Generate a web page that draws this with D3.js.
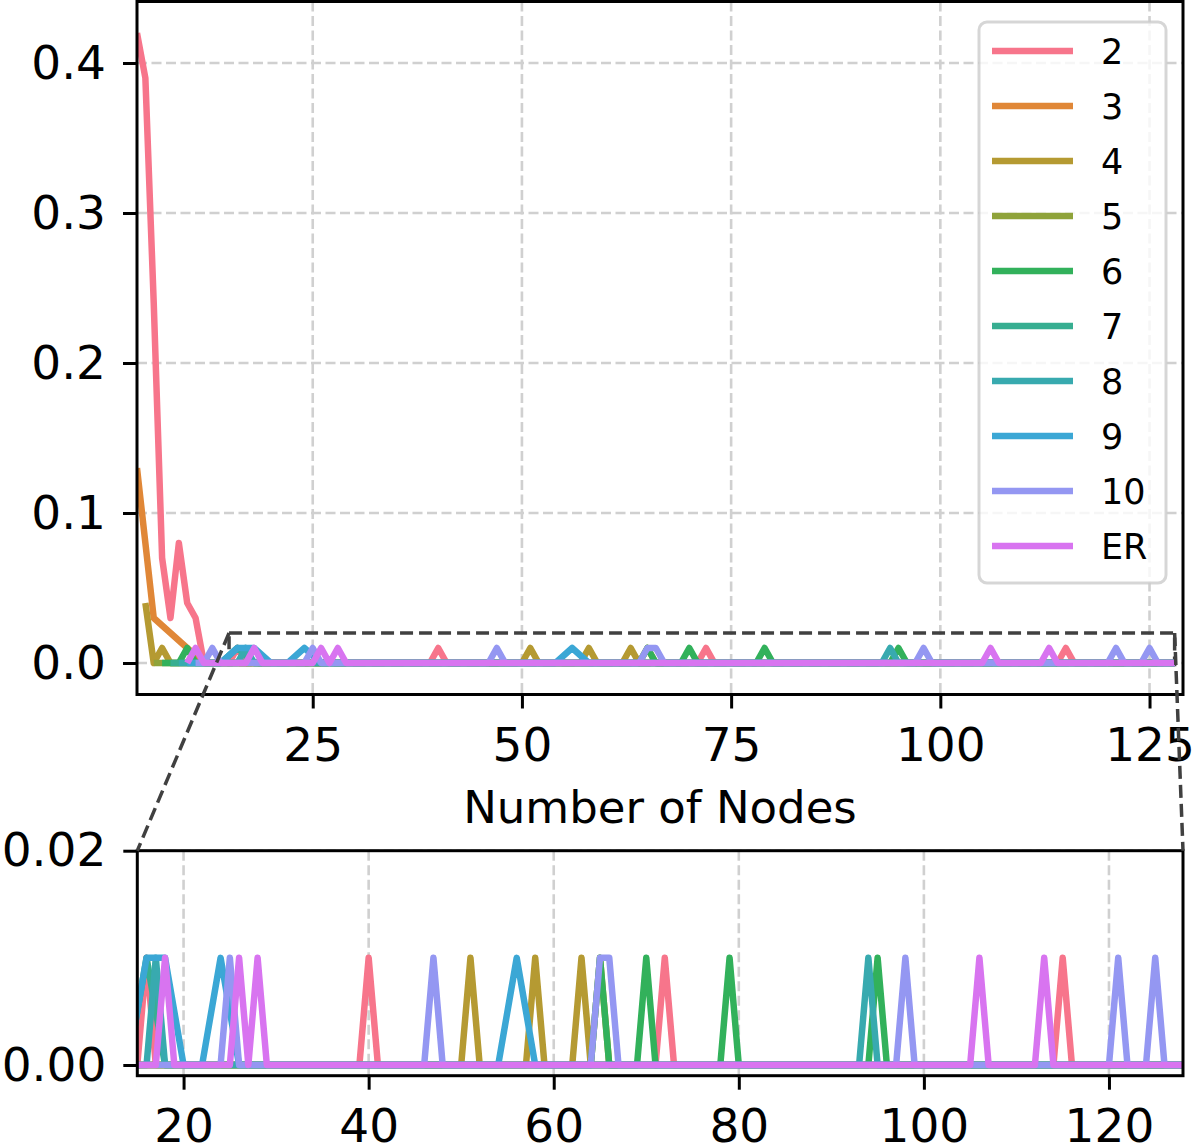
<!DOCTYPE html>
<html>
<head>
<meta charset="utf-8">
<script src="https://cdn.jsdelivr.net/npm/d3@7"></script>
<style>
  body { margin: 0; background: #fff; }
  svg { display: block; font-family: "DejaVu Sans", sans-serif; }
</style>
</head>
<body>
<div id="chart"></div>
<script>
// series labels and colours
var labels = ["2", "3", "4", "5", "6", "7", "8", "9", "10", "ER"];
var colors = ["#f7758b", "#e08737", "#b59a32", "#8fa33a", "#32b15b",
              "#37ae91", "#38aaaf", "#3ba7d5", "#9497f2", "#d874f0"];

// first node count of each series, and node step (odd k -> even n only)
var firstNode = [4, 4, 5, 6, 7, 8, 9, 10, 11, 10];
var nodeStep  = [1, 2, 1, 2, 1, 2, 1, 2, 1, 1];
var lastNode = 128;

// non-zero values, [nodes, value]; all other points are 0
var s2  = [[4, 0.42], [5, 0.39], [6, 0.24], [7, 0.07], [8, 0.03], [9, 0.08], [10, 0.04], [11, 0.03],
           [16, 0.01], [40, 0.01], [72, 0.01], [115, 0.01]];
var s3  = [[4, 0.13], [6, 0.03], [8, 0.02], [10, 0.01]];
var s4  = [[5, 0.04], [7, 0.01], [51, 0.01], [58, 0.01], [63, 0.01], [65, 0.01]];
var s5  = [];
var s6  = [[10, 0.01], [65, 0.01], [70, 0.01], [79, 0.01], [95, 0.01]];
var s7  = [[16, 0.01]];
var s8  = [[17, 0.01], [94, 0.01]];
var s9  = [[16, 0.01], [18, 0.01], [24, 0.01], [56, 0.01]];
var s10 = [[13, 0.01], [25, 0.01], [47, 0.01], [65, 0.01], [66, 0.01], [98, 0.01], [121, 0.01], [125, 0.01]];
var sER = [[11, 0.01], [18, 0.01], [26, 0.01], [28, 0.01], [106, 0.01], [113, 0.01]];
var peaks = [s2, s3, s4, s5, s6, s7, s8, s9, s10, sER];

// tick labels
var mainXTicks = [25, 50, 75, 100, 125];
var mainYTicks = [0, 0.1, 0.2, 0.3, 0.4];
var insetXTicks = [20, 40, 60, 80, 100, 120];
var insetYTicks = [0, 0.02];

var series = labels.map(function (lab, i) {
  var m = new Map(peaks[i]);
  var pts = [];
  for (var n = firstNode[i]; n <= lastNode; n += nodeStep[i]) {
    pts.push({ x: n, y: m.has(n) ? m.get(n) : 0 });
  }
  return { label: lab, color: colors[i], values: pts };
});

var width = 1194, height = 1144;
var fontSize = 47;

var svg = d3.select("#chart").append("svg")
  .attr("width", width)
  .attr("height", height);

function panel(opts) {
  var x = d3.scaleLinear().domain(opts.xd).range([opts.left, opts.right]);
  var y = d3.scaleLinear().domain(opts.yd).range([opts.bottom, opts.top]);
  var g = svg.append("g");

  g.append("clipPath").attr("id", opts.id)
    .append("rect")
    .attr("x", opts.left).attr("y", opts.top)
    .attr("width", opts.right - opts.left).attr("height", opts.bottom - opts.top);

  // grid
  var grid = g.append("g").attr("stroke", "#d0d0d0").attr("stroke-width", 2.6)
    .attr("stroke-dasharray", "10,4.5");
  grid.selectAll(".gx").data(opts.xt).enter().append("line")
    .attr("x1", function (d) { return x(d); }).attr("x2", function (d) { return x(d); })
    .attr("y1", opts.top).attr("y2", opts.bottom);
  grid.selectAll(".gy").data(opts.yt).enter().append("line")
    .attr("y1", function (d) { return y(d); }).attr("y2", function (d) { return y(d); })
    .attr("x1", opts.left).attr("x2", opts.right);

  if (opts.before) opts.before(g, x, y);

  var line = d3.line()
    .x(function (d) { return x(d.x); })
    .y(function (d) { return y(d.y); });

  g.append("g").attr("clip-path", "url(#" + opts.id + ")")
    .selectAll("path").data(series).enter().append("path")
    .attr("d", function (d) { return line(d.values); })
    .attr("fill", "none")
    .attr("stroke", function (d) { return d.color; })
    .attr("stroke-width", 6.5)
    .attr("stroke-linejoin", "round")
    .attr("stroke-linecap", "butt");

  // axes
  var ax = g.append("g").attr("transform", "translate(0," + opts.bottom + ")")
    .call(d3.axisBottom(x).tickValues(opts.xt).tickSize(14).tickSizeOuter(0).tickPadding(19));
  var ay = g.append("g").attr("transform", "translate(" + opts.left + ",0)")
    .call(d3.axisLeft(y).tickValues(opts.yt).tickFormat(d3.format(opts.yf)).tickSize(14).tickSizeOuter(0).tickPadding(17));
  [ax, ay].forEach(function (a) {
    a.select(".domain").remove();
    a.selectAll(".tick line").attr("stroke", "#000").attr("stroke-width", 3);
    a.selectAll(".tick text").attr("fill", "#000")
      .style("font-size", fontSize + "px")
      .style("font-family", "'DejaVu Sans', sans-serif");
  });

  g.append("rect")
    .attr("x", opts.left).attr("y", opts.top)
    .attr("width", opts.right - opts.left).attr("height", opts.bottom - opts.top)
    .attr("fill", "none").attr("stroke", "#000").attr("stroke-width", 3);

  return { x: x, y: y, g: g };
}

var insetXD = [15, 128], insetYD = [-0.001, 0.02];

var main = panel({
  id: "clipMain",
  left: 137, right: 1183, top: 1.5, bottom: 694.5,
  xd: [4, 129], yd: [-0.021, 0.441],
  xt: mainXTicks, yt: mainYTicks, yf: ".1f",
  before: function (g, x, y) {
    // zoom indicator box
    g.append("rect")
      .attr("x", x(insetXD[0])).attr("y", y(insetYD[1]))
      .attr("width", x(insetXD[1]) - x(insetXD[0]))
      .attr("height", y(insetYD[0]) - y(insetYD[1]))
      .attr("fill", "none").attr("stroke", "#404040")
      .attr("stroke-width", 3.5).attr("stroke-dasharray", "13,6");
  }
});

var inset = panel({
  id: "clipInset",
  left: 137.3, right: 1183, top: 850.7, bottom: 1075.7,
  xd: insetXD, yd: insetYD,
  xt: insetXTicks, yt: insetYTicks, yf: ".2f"
});

// connectors from the zoom box to the inset
var conn = [
  [main.x(insetXD[0]), main.y(insetYD[1]), inset.x(insetXD[0]), inset.y(insetYD[1])],
  [main.x(insetXD[1]), main.y(insetYD[1]), inset.x(insetXD[1]), inset.y(insetYD[1])]
];
svg.append("g").selectAll("line").data(conn).enter().append("line")
  .attr("x1", function (d) { return d[0]; }).attr("y1", function (d) { return d[1]; })
  .attr("x2", function (d) { return d[2]; }).attr("y2", function (d) { return d[3]; })
  .attr("stroke", "#404040").attr("stroke-width", 3.5).attr("stroke-dasharray", "13,6");

// x label
svg.append("text")
  .attr("x", (137 + 1183) / 2).attr("y", 823)
  .attr("text-anchor", "middle")
  .style("font-size", "45px")
  .text("Number of Nodes");

// legend
var legend = svg.append("g");
legend.append("rect")
  .attr("x", 979).attr("y", 22).attr("width", 187).attr("height", 561).attr("rx", 8)
  .attr("fill", "#fff").attr("fill-opacity", 0.8)
  .attr("stroke", "#cccccc").attr("stroke-opacity", 0.8).attr("stroke-width", 3);
var items = legend.selectAll(".item").data(series).enter().append("g")
  .attr("transform", function (d, i) { return "translate(0," + (51 + i * 55) + ")"; });
items.append("line")
  .attr("x1", 992).attr("x2", 1073)
  .attr("stroke", function (d) { return d.color; })
  .attr("stroke-width", 6.5);
items.append("text")
  .attr("x", 1101).attr("dy", "0.36em")
  .style("font-size", "35px")
  .text(function (d) { return d.label; });
</script>
</body>
</html>
